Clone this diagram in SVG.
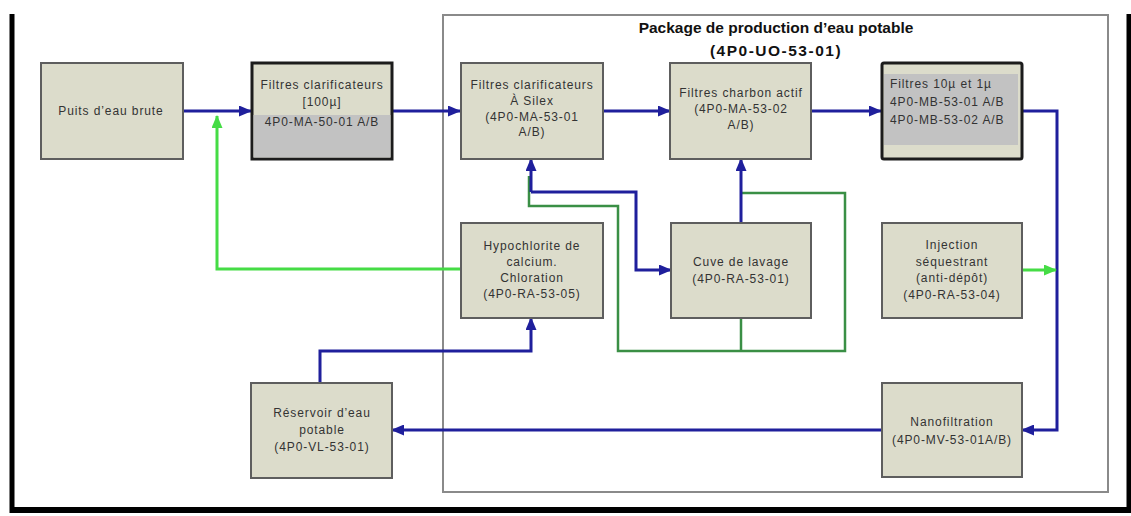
<svg xmlns="http://www.w3.org/2000/svg" width="1131" height="516" viewBox="0 0 1131 516">
  <style>
    .box { fill: #dcdccb; stroke: #5e5e5e; stroke-width: 2; }
    .box-dark { fill: #dcdccb; stroke: #1c1c1c; stroke-width: 3; }
    .shade { fill: #c2c2c2; }
    .lbl { font-family: "Liberation Sans", Arial, sans-serif; font-size: 12px; fill: #333; text-anchor: middle; letter-spacing: 0.9px; }
    .lbl-left { font-family: "Liberation Sans", Arial, sans-serif; font-size: 12px; fill: #333; letter-spacing: 0.9px; }
    .title { font-family: "Liberation Sans", Arial, sans-serif; font-size: 15.5px; font-weight: bold; fill: #111; text-anchor: middle; }
    .flow { fill: none; stroke: #1f1f9c; stroke-width: 3; }
    .wash { fill: none; stroke: #3a8f45; stroke-width: 2.5; }
    .dose { fill: none; stroke: #45dc45; stroke-width: 3; }
  </style>
  <defs>
    <marker id="arrow-blue" markerUnits="userSpaceOnUse" markerWidth="13" markerHeight="11" refX="12" refY="5.5" orient="auto">
      <path d="M0,0 L13,5.5 L0,11 Z" fill="#1f1f9c"/>
    </marker>
    <marker id="arrow-green" markerUnits="userSpaceOnUse" markerWidth="13" markerHeight="11" refX="12" refY="5.5" orient="auto">
      <path d="M0,0 L13,5.5 L0,11 Z" fill="#45dc45"/>
    </marker>
  </defs>

  <rect x="0" y="0" width="1131" height="516" fill="#ffffff"/>

  <!-- outer frame -->
  <g id="frame">
    <line x1="12" y1="14" x2="12" y2="513" stroke="#000" stroke-width="5"/>
    <line x1="10" y1="510" x2="1131" y2="510" stroke="#000" stroke-width="6"/>
    <line x1="1129" y1="14" x2="1129" y2="513" stroke="#000" stroke-width="5"/>
  </g>

  <!-- treatment package boundary -->
  <g id="package">
    <rect x="443" y="15" width="665" height="477" fill="none" stroke="#8a8a8a" stroke-width="2"/>
    <text class="title" x="776" y="33">Package de production d’eau potable</text>
    <text class="title" x="776" y="56" letter-spacing="1.5">(4P0-UO-53-01)</text>
  </g>

  <!-- connectors -->
  <g id="connectors">
    <path class="wash" d="M529,176 V206 H618 V351 H845 V193 H742"/>
    <path class="wash" d="M741,318 V351"/>
    <path class="flow" d="M183,111 H251" marker-end="url(#arrow-blue)"/>
    <path class="flow" d="M392,111 H460" marker-end="url(#arrow-blue)"/>
    <path class="flow" d="M603,111 H670" marker-end="url(#arrow-blue)"/>
    <path class="flow" d="M811,111 H881" marker-end="url(#arrow-blue)"/>
    <path class="flow" d="M1022,111 H1057 V430 H1022" marker-end="url(#arrow-blue)"/>
    <path class="flow" d="M882,430 H392" marker-end="url(#arrow-blue)"/>
    <path class="flow" d="M320,383 V351 H531 V318" marker-end="url(#arrow-blue)"/>
    <path class="flow" d="M531,192 H636 V270 H671" marker-end="url(#arrow-blue)"/>
    <path class="flow" d="M531,192 V159" marker-end="url(#arrow-blue)"/>
    <path class="flow" d="M741,223 V159" marker-end="url(#arrow-blue)"/>
    <path class="dose" d="M461,269 H217 V116" marker-end="url(#arrow-green)"/>
    <path class="dose" d="M1022,270 H1056" marker-end="url(#arrow-green)"/>
  </g>

  <g id="puits">
    <rect class="box" x="41" y="63" width="142" height="96"/>
    <text class="lbl" x="111" y="115">Puits d’eau brute</text>
  </g>

  <g id="filtres-100">
    <rect class="box-dark" x="252" y="63" width="140" height="96"/>
    <rect class="shade" x="253.5" y="115" width="137" height="42.5"/>
    <text class="lbl" x="322" y="89">Filtres clarificateurs</text>
    <text class="lbl" x="322" y="106">[100µ]</text>
    <text class="lbl" x="322" y="126">4P0-MA-50-01 A/B</text>
  </g>

  <g id="filtres-silex">
    <rect class="box" x="461" y="63" width="142" height="96"/>
    <text class="lbl" x="532" y="89">Filtres clarificateurs</text>
    <text class="lbl" x="532" y="105">À Silex</text>
    <text class="lbl" x="532" y="121">(4P0-MA-53-01</text>
    <text class="lbl" x="532" y="136">A/B)</text>
  </g>

  <g id="filtres-charbon">
    <rect class="box" x="670" y="63" width="141" height="96"/>
    <text class="lbl" x="741" y="97">Filtres charbon actif</text>
    <text class="lbl" x="741" y="113">(4P0-MA-53-02</text>
    <text class="lbl" x="741" y="129">A/B)</text>
  </g>

  <g id="filtres-10-1">
    <rect class="box-dark" x="882" y="63" width="140" height="96" rx="2"/>
    <rect class="shade" x="884" y="74" width="134" height="71"/>
    <text class="lbl-left" x="890" y="88">Filtres 10µ et 1µ</text>
    <text class="lbl-left" x="890" y="106">4P0-MB-53-01 A/B</text>
    <text class="lbl-left" x="890" y="124">4P0-MB-53-02 A/B</text>
  </g>

  <g id="hypochlorite">
    <rect class="box" x="461" y="223" width="142" height="95"/>
    <text class="lbl" x="532" y="250">Hypochlorite de</text>
    <text class="lbl" x="532" y="266">calcium.</text>
    <text class="lbl" x="532" y="282">Chloration</text>
    <text class="lbl" x="532" y="298">(4P0-RA-53-05)</text>
  </g>

  <g id="cuve-lavage">
    <rect class="box" x="671" y="223" width="140" height="95"/>
    <text class="lbl" x="741" y="266">Cuve de lavage</text>
    <text class="lbl" x="741" y="283">(4P0-RA-53-01)</text>
  </g>

  <g id="injection">
    <rect class="box" x="882" y="223" width="140" height="95"/>
    <text class="lbl" x="952" y="249">Injection</text>
    <text class="lbl" x="952" y="266">séquestrant</text>
    <text class="lbl" x="952" y="282">(anti-dépôt)</text>
    <text class="lbl" x="952" y="299">(4P0-RA-53-04)</text>
  </g>

  <g id="reservoir">
    <rect class="box" x="251" y="383" width="141" height="95"/>
    <text class="lbl" x="322" y="417">Réservoir d’eau</text>
    <text class="lbl" x="322" y="434">potable</text>
    <text class="lbl" x="322" y="451">(4P0-VL-53-01)</text>
  </g>

  <g id="nanofiltration">
    <rect class="box" x="882" y="383" width="140" height="94"/>
    <text class="lbl" x="952" y="426">Nanofiltration</text>
    <text class="lbl" x="952" y="444">(4P0-MV-53-01A/B)</text>
  </g>
</svg>
